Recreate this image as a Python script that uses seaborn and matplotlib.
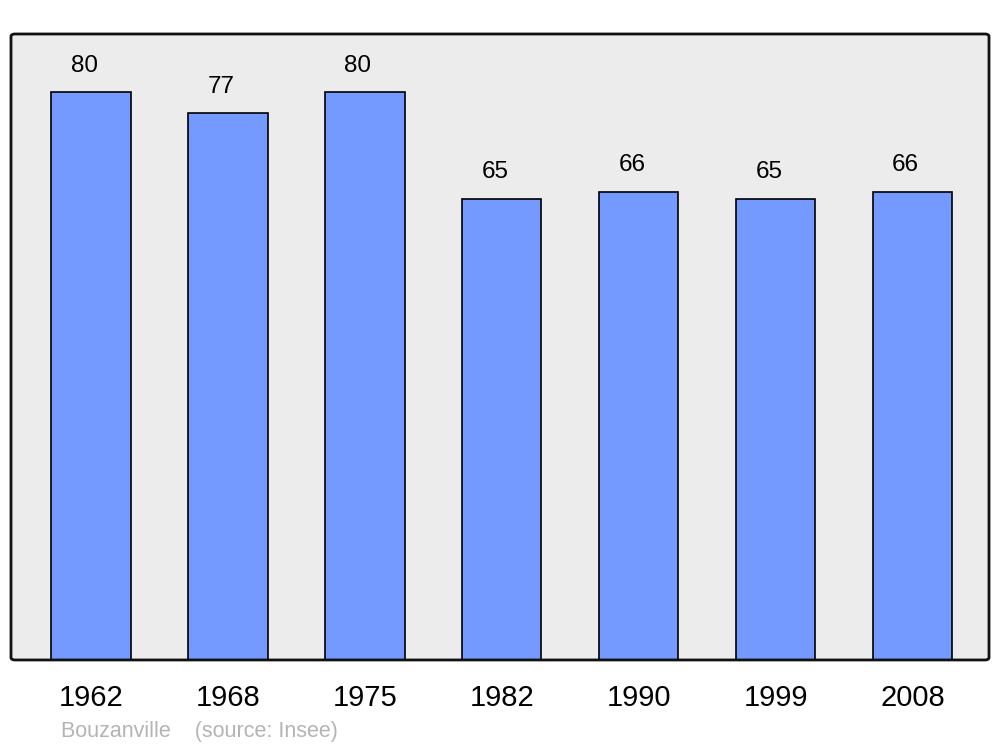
import matplotlib
matplotlib.use('Agg')
import matplotlib.pyplot as plt
import seaborn as sns
import pandas as pd
from matplotlib.patches import FancyBboxPatch

# data
years = ['1962', '1968', '1975', '1982', '1990', '1999', '2008']
population = [80, 77, 80, 65, 66, 65, 66]

df = pd.DataFrame({'year': years, 'pop': population})

sns.set_style('white')
plt.rcParams['font.family'] = ['Liberation Sans', 'DejaVu Sans']

fig = plt.figure(figsize=(10, 7.47), dpi=100)
ax = fig.add_axes([0.011, 0.1165, 0.978, 0.838])
ax.set_facecolor('none')

sns.barplot(data=df, x='year', y='pop', color='#7499ff', saturation=1,
            width=0.58, edgecolor='black', linewidth=1.2, ax=ax, zorder=3)

# rounded frame: background below bars, border above
frame = FancyBboxPatch((0, 0), 1, 1, boxstyle='round,pad=0,rounding_size=0.004',
                       transform=ax.transAxes, facecolor='#ececec',
                       edgecolor='none', zorder=0, clip_on=False)
ax.add_patch(frame)
frame2 = FancyBboxPatch((0, 0), 1, 1, boxstyle='round,pad=0,rounding_size=0.004',
                        transform=ax.transAxes, facecolor='none',
                        edgecolor='#111111', linewidth=2, zorder=5, clip_on=False)
ax.add_patch(frame2)

for i, v in enumerate(population):
    ax.text(i - 0.05, v + 2.2, str(v), ha='center', va='bottom', fontsize=17.5, color='black')

ax.set_ylim(0, 88.2)
ax.set_xlim(-0.584, 6.558)
ax.set_yticks([])
ax.set_xlabel('')
ax.set_ylabel('')
for s in ax.spines.values():
    s.set_visible(False)
ax.tick_params(axis='x', length=0, labelsize=21, pad=17, colors='black')

fig.text(0.061, 0.013, 'Bouzanville    (source: Insee)', fontsize=15.5, color='#b4b4b4')

fig.savefig('out.png', dpi=100)
